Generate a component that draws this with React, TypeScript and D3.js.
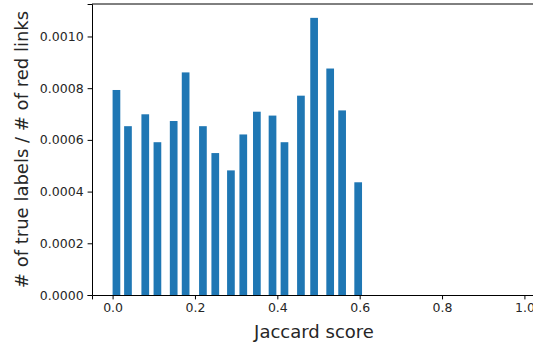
import React, { useEffect, useRef } from 'react';
import * as d3 from 'd3';

// left edge of each bin (Jaccard score) and the ratio for that bin
const binStarts = [0.0, 0.028, 0.070, 0.0995, 0.139, 0.168, 0.210, 0.240, 0.278, 0.308,
  0.341, 0.379, 0.408, 0.448, 0.480, 0.519, 0.548, 0.587];
const ratios = [0.000793, 0.000653, 0.000699, 0.000591, 0.000673, 0.000861, 0.000653, 0.000549,
  0.000482, 0.000621, 0.000709, 0.000694, 0.000591, 0.000771, 0.001072, 0.000876, 0.000714, 0.000436];
const binWidth = 0.0187;
const xTicks = [0, 0.2, 0.4, 0.6, 0.8, 1.0];
const yTicks = [0, 0.0002, 0.0004, 0.0006, 0.0008, 0.001];

const W = 533;
const H = 347;
const margin = { top: 4, left: 92, bottom: 52 };

const App = () => {
  const ref = useRef(null);

  useEffect(() => {
    document.body.style.margin = '0';
    const svg = d3.select(ref.current);
    svg.selectAll('*').remove();

    const plotBottom = H - margin.bottom;
    const x = d3.scaleLinear().domain([-0.05, 1.05]).range([margin.left, 545]);
    const y = d3.scaleLinear().domain([0, 0.0011256]).range([plotBottom, margin.top]);

    const font = 'DejaVu Sans, sans-serif';

    // bars
    svg.append('g')
      .selectAll('rect')
      .data(binStarts.map((s, i) => ({ s, v: ratios[i] })))
      .join('rect')
      .attr('x', d => x(d.s))
      .attr('width', d => x(d.s + binWidth) - x(d.s))
      .attr('y', d => y(d.v))
      .attr('height', d => y(0) - y(d.v))
      .attr('fill', '#1f77b4');

    // x axis
    const xAxis = svg.append('g')
      .attr('transform', `translate(0,${plotBottom})`)
      .call(d3.axisBottom(x).tickValues(xTicks).tickFormat(d3.format('.1f')).tickSizeOuter(0).tickSize(4.4).tickPadding(4));
    xAxis.select('.domain').attr('stroke', '#000').attr('stroke-width', 1);

    // y axis
    const yAxis = svg.append('g')
      .attr('transform', `translate(${margin.left},0)`)
      .call(d3.axisLeft(y).tickValues(yTicks).tickFormat(d3.format('.4f')).tickSizeOuter(0).tickSize(4.4).tickPadding(4));
    yAxis.select('.domain').attr('stroke', '#000').attr('stroke-width', 1);

    svg.selectAll('.tick text')
      .attr('font-family', font)
      .attr('font-size', 12.5)
      .attr('fill', '#262626');

    // top spine
    svg.append('line')
      .attr('x1', margin.left).attr('x2', W)
      .attr('y1', margin.top).attr('y2', margin.top)
      .attr('stroke', '#000').attr('stroke-width', 1);

    // axis labels
    svg.append('text')
      .attr('x', 314)
      .attr('y', 338)
      .attr('text-anchor', 'middle')
      .attr('font-family', font)
      .attr('font-size', 18)
      .attr('fill', '#262626')
      .text('Jaccard score');

    svg.append('text')
      .attr('transform', `translate(28,${(margin.top + plotBottom) / 2}) rotate(-90)`)
      .attr('text-anchor', 'middle')
      .attr('font-family', font)
      .attr('font-size', 18)
      .attr('fill', '#262626')
      .text('# of true labels / # of red links');
  }, []);

  return (
    <svg ref={ref} width={W} height={H} style={{ display: 'block', background: '#fff' }} />
  );
};

export default App;
